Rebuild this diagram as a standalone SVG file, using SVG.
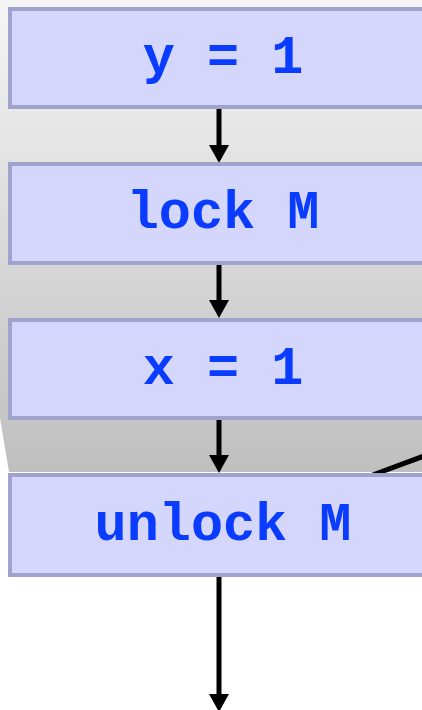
<svg xmlns="http://www.w3.org/2000/svg" width="422" height="710" viewBox="0 0 422 710">
  <defs>
    <linearGradient id="bg" x1="0" y1="0" x2="0" y2="1">
      <stop offset="0" stop-color="#f5f5f5"/>
      <stop offset="1" stop-color="#bfbfbf"/>
    </linearGradient>
    <style>
      .box { fill: #d5d6fc; stroke: #a0a3cc; stroke-width: 4; }
      .lbl { font-family: "Liberation Mono", "Courier New", monospace; font-weight: bold; font-size: 53.5px; fill: #0a3cff; text-anchor: middle; }
      .edge { stroke: #000; stroke-width: 5; fill: none; }
      .head { fill: #000; }
    </style>
  </defs>
  <rect width="422" height="710" fill="#fff"/>
  <polygon points="0,0 430,0 430,472 9,472 0,418" fill="url(#bg)"/>
  <g id="connectors">
    <line class="edge" x1="219" y1="109" x2="219" y2="145" />
    <path class="head" d="M209,145 L229,145 L219,163 Z"/>
    <line class="edge" x1="219" y1="264" x2="219" y2="300" />
    <path class="head" d="M209,300 L229,300 L219,318 Z"/>
    <line class="edge" x1="219" y1="420" x2="219" y2="455" />
    <path class="head" d="M209,455 L229,455 L219,473 Z"/>
    <line class="edge" x1="219" y1="577" x2="219" y2="694" />
    <path class="head" d="M209,694 L229,694 L219,712 Z"/>
    <line class="edge" x1="370" y1="476" x2="432" y2="453" />
  </g>
  <g id="n1">
    <rect class="box" x="10" y="9" width="430" height="98"/>
    <text class="lbl" x="223" y="73">y = 1</text>
  </g>
  <g id="n2">
    <rect class="box" x="10" y="164" width="430" height="99"/>
    <text class="lbl" x="223" y="228">lock M</text>
  </g>
  <g id="n3">
    <rect class="box" x="10" y="320" width="430" height="98"/>
    <text class="lbl" x="223" y="384">x = 1</text>
  </g>
  <g id="n4">
    <rect class="box" x="10" y="475" width="430" height="100"/>
    <text class="lbl" x="223" y="540">unlock M</text>
  </g>
</svg>
